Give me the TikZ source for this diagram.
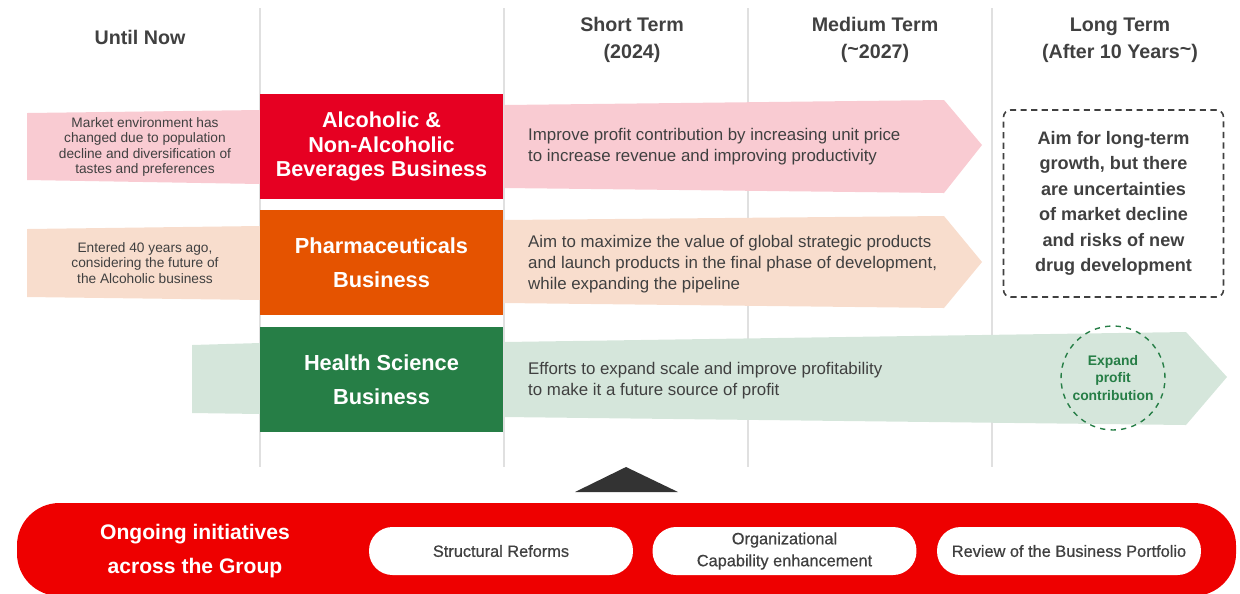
\documentclass[tikz,border=0pt]{standalone}
\usepackage{fontspec}
\setmainfont{Liberation Sans}
\newfontfamily\medfont[FakeBold=0.6]{Liberation Sans}
\usepackage{tikz}
\usetikzlibrary{positioning}
\usetikzlibrary{shapes.misc}
\definecolor{alcred}{RGB}{230,0,34}
\definecolor{pharmorange}{RGB}{229,83,0}
\definecolor{hsgreen}{RGB}{38,126,70}
\definecolor{alcband}{RGB}{249,203,210}
\definecolor{pharmband}{RGB}{248,221,205}
\definecolor{hsband}{RGB}{213,230,219}
\definecolor{darktext}{RGB}{64,64,64}
\definecolor{colgray}{RGB}{224,224,224}
\definecolor{groupred}{RGB}{238,0,0}
\definecolor{tridark}{RGB}{51,51,51}

\begin{document}
\begin{tikzpicture}[x=0.02cm, y=-0.02cm]
	\tikzstyle{head}=[text=darktext, align=center, font=\fontsize{11.2}{15.3}\selectfont\bfseries]
	\tikzstyle{biz}=[minimum width=4.86cm, minimum height=2.1cm, inner sep=0pt, text=white, align=center]
	\tikzstyle{past}=[text=darktext, align=center, font=\fontsize{7.8}{8.8}\selectfont]
	\tikzstyle{plan}=[text=darktext, align=left, anchor=west, font=\fontsize{9.6}{12}\selectfont]
	\tikzstyle{pill}=[fill=white, rounded corners=0.47cm, minimum width=5.28cm, minimum height=0.96cm, inner sep=0pt, text=darktext, align=center, font=\fontsize{9.3}{12.5}\medfont]
	
	\useasboundingbox (0,0) rectangle (1240,593);
	
	% column rules
	\foreach \x in {260,504,748,992}
		\draw [colgray, line width=0.8pt] (\x,8) -- (\x,467);
	
	\node at (140,37) [head] (now) {Until Now};
	\node at (632,40) [head] (short) {Short Term\\(2024)};
	\node at (875,40) [head] (medium) {Medium Term\\({\raisebox{0.3ex}{\char`~}}2027)};
	\node at (1120,40) [head] (long) {Long Term\\(After 10 Years{\raisebox{0.3ex}{\char`~}})};
	
	% bands behind the business boxes
	\fill [alcband] (27,113) -- (260,110) -- (260,184) -- (27,180) -- cycle;
	\fill [alcband] (504,105) -- (944,100) -- (982,145) -- (944,193) -- (504,188) -- cycle;
	\fill [pharmband] (27,229) -- (260,226) -- (260,300) -- (27,297) -- cycle;
	\fill [pharmband] (504,220) -- (944,216) -- (982,262) -- (944,308) -- (504,303) -- cycle;
	\fill [hsband] (192,345) -- (260,343) -- (260,414) -- (192,413) -- cycle;
	\fill [hsband] (504,342) -- (1186,332) -- (1227,377) -- (1186,425) -- (504,417) -- cycle;
	
	\node at (381.5,146.5) [biz, fill=alcred, font=\fontsize{12.3}{14.2}\selectfont\bfseries] (alc) {Alcoholic \&\\Non-Alcoholic\\Beverages Business};
	\node at (381.5,262.5) [biz, fill=pharmorange, font=\fontsize{12.4}{19.3}\selectfont\bfseries] (pharm) {Pharmaceuticals\\Business};
	\node at (381.5,379.5) [biz, fill=hsgreen, font=\fontsize{12.4}{19.3}\selectfont\bfseries] (hs) {Health Science\\Business};
	
	\node at (145,147) [past] (alcpast) {Market environment has\\changed due to population\\decline and diversification of\\tastes and preferences};
	\node at (145,263) [past] (pharmpast) {Entered 40 years ago,\\considering the future of\\the Alcoholic business};
	
	\node at (522,147) [plan] (alcplan) {Improve profit contribution by increasing unit price\\to increase revenue and improving productivity};
	\node at (522,264) [plan] (pharmplan) {Aim to maximize the value of global strategic products\\and launch products in the final phase of development,\\while expanding the pipeline};
	\node at (522,381) [plan] (hsplan) {Efforts to expand scale and improve profitability\\to make it a future source of profit};
	
	\node at (1113.5,203.5) [draw=darktext, dash pattern=on 3.5pt off 2.5pt, line width=0.9pt, rounded corners=4pt, minimum width=4.4cm, minimum height=3.74cm, text=darktext, align=center, font=\fontsize{10.3}{14.5}\selectfont\bfseries] (risk) {Aim for long-term\\growth, but there\\are uncertainties\\of market decline\\and risks of new\\drug development};
	\node at (1113,378) [circle, draw=hsgreen, dash pattern=on 3pt off 3pt, line width=0.8pt, minimum size=2.08cm, inner sep=0pt, text=hsgreen, align=center, font=\fontsize{7.9}{9.7}\selectfont\bfseries] (expand) {Expand\\profit\\contribution};
	
	% group-wide initiatives
	\fill [tridark] (575,492) -- (626,467) -- (678,492) -- cycle;
	\fill [groupred, rounded corners=0.85cm] (17,503) rectangle (1236,596);
	\node at (195,551) [text=white, align=center, font=\fontsize{12}{19.3}\selectfont\bfseries] (group) {Ongoing initiatives\\across the Group};
	\node at (501,551) [pill] (reform) {Structural Reforms};
	\node at (784.5,551) [pill] (capab) {Organizational\\Capability enhancement};
	\node at (1069,551) [pill] (portf) {Review of the Business Portfolio};
\end{tikzpicture}
\end{document}
